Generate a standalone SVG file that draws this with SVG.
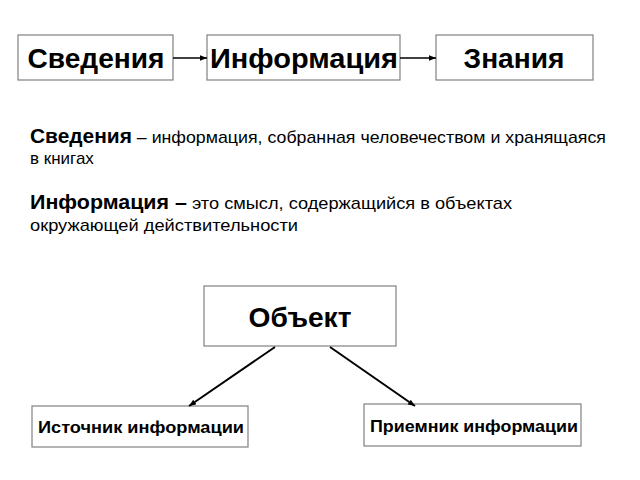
<svg xmlns="http://www.w3.org/2000/svg" width="640" height="480" viewBox="0 0 640 480">
<style>
.b{fill:#fff;stroke:#808080;stroke-width:1.2}
text{font-family:"Liberation Sans",Arial,sans-serif;fill:#000}
.h{font-size:28px;font-weight:bold;text-anchor:middle}
.s{font-size:17px;font-weight:bold;text-anchor:middle}
.t{font-size:17px}
.c{stroke:#000;fill:none}
</style>
<defs><marker id="a" viewBox="0 0 10 10" refX="10" refY="5" markerWidth="7" markerHeight="7" orient="auto" markerUnits="userSpaceOnUse"><path d="M0,1L10,5L0,9z" fill="#000"/></marker></defs>
<rect width="640" height="480" fill="#fff"/>
<g id="n1"><rect class="b" x="18" y="35" width="155" height="45"/><text class="h" x="96" y="68" textLength="137" lengthAdjust="spacingAndGlyphs">Сведения</text></g>
<g id="n2"><rect class="b" x="207" y="35" width="193" height="45"/><text class="h" x="304" y="68" textLength="188" lengthAdjust="spacingAndGlyphs">Информация</text></g>
<g id="n3"><rect class="b" x="436" y="35" width="157" height="45"/><text class="h" x="514" y="68" textLength="101" lengthAdjust="spacingAndGlyphs">Знания</text></g>
<g id="n4"><rect class="b" x="204" y="286" width="192" height="60"/><text class="h" x="300" y="327" textLength="103" lengthAdjust="spacingAndGlyphs">Объект</text></g>
<g id="n5"><rect class="b" x="32" y="406" width="216" height="41"/><text class="s" x="141" y="433" textLength="206" lengthAdjust="spacingAndGlyphs">Источник информации</text></g>
<g id="n6"><rect class="b" x="364" y="404" width="217" height="42"/><text class="s" x="474" y="432" textLength="208" lengthAdjust="spacingAndGlyphs">Приемник информации</text></g>
<g id="edges">
<path class="c" stroke-width="1.5" d="M173,58H207" marker-end="url(#a)"/>
<path class="c" stroke-width="1.5" d="M400,58H436" marker-end="url(#a)"/>
<path class="c" stroke-width="2" d="M275,347L189,406" marker-end="url(#a)"/>
<path class="c" stroke-width="2" d="M330,347L415,406" marker-end="url(#a)"/>
</g>
<text class="t" x="30" y="143" textLength="576" lengthAdjust="spacingAndGlyphs"><tspan font-weight="bold" font-size="20">Сведения</tspan> – информация, собранная человечеством и хранящаяся</text>
<text class="t" x="30" y="164">в книгах</text>
<text class="t" x="30" y="209" textLength="482" lengthAdjust="spacingAndGlyphs"><tspan font-weight="bold" font-size="20">Информация –</tspan> это смысл, содержащийся в объектах</text>
<text class="t" x="30" y="231" textLength="268" lengthAdjust="spacingAndGlyphs">окружающей действительности</text>
</svg>
